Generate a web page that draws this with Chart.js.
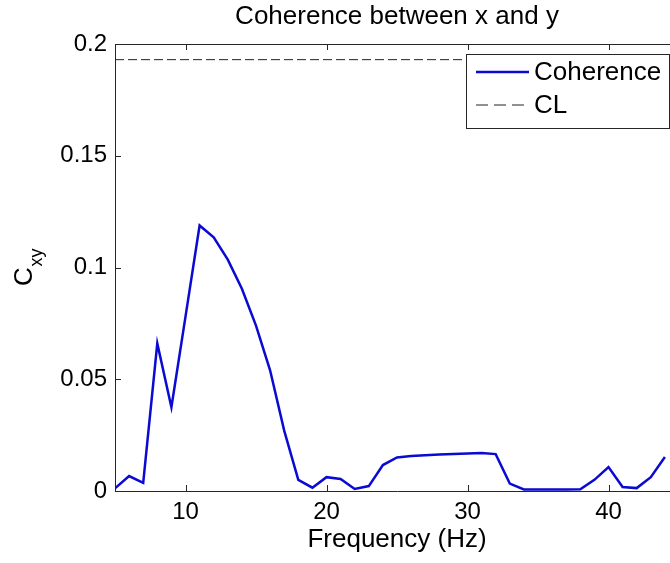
<!DOCTYPE html>
<html>
<head>
<meta charset="utf-8">
<script src="https://cdn.jsdelivr.net/npm/chart.js@4/dist/chart.umd.min.js"></script>
<style>
  html, body { margin: 0; padding: 0; background: #fff; overflow: hidden; width: 670px; height: 563px; }
  #wrap { position: relative; width: 680px; height: 563px; }
</style>
</head>
<body>
<div id="wrap"><canvas id="c" width="680" height="563"></canvas></div>
<script>
// ---- data ----
const frequencies = [5, 6, 7, 8, 9, 10, 11, 12, 13, 14, 15, 16, 17, 18, 19, 20, 21, 22, 23, 24,
                     25, 26, 27, 28, 29, 30, 31, 32, 33, 34, 35, 36, 37, 38, 39, 40, 41, 42, 43, 44];
const coherence = [0.0012, 0.0067, 0.0036, 0.066, 0.0375, 0.078, 0.1188, 0.1135, 0.1035, 0.0905,
                   0.074, 0.054, 0.027, 0.005, 0.0015, 0.0062, 0.0054, 0.0009, 0.0022, 0.0116,
                   0.0150, 0.0157, 0.0160, 0.0163, 0.0166, 0.0168, 0.0170, 0.0165, 0.0033, 0.0007,
                   0.0007, 0.0007, 0.0007, 0.0008, 0.005, 0.0107, 0.0018, 0.0013, 0.0062, 0.0152];
const confidenceLevel = 0.193;
const xRange = [5, 45];
const yRange = [0, 0.2];
const xTicks = [10, 20, 30, 40];
const xTickLabels = ['10', '20', '30', '40'];
const yTicks = [0, 0.05, 0.1, 0.15, 0.2];
const yTickLabels = ['0', '0.05', '0.1', '0.15', '0.2'];
const seriesNames = ['Coherence', 'CL'];
const chartTitle = 'Coherence between x and y';
const xTitle = 'Frequency (Hz)';
const yTitleMain = 'C';
const yTitleSub = 'xy';

const FONT = '"Liberation Sans", Arial, Helvetica, sans-serif';
const BLUE = '#0a0ad2';
const DASH = '#222222';

const coherencePoints = frequencies.map((f, i) => ({ x: f, y: coherence[i] }));
const clPoints = xRange.map(f => ({ x: f, y: confidenceLevel }));

const matlabAxes = {
  id: 'matlabAxes',
  afterDatasetsDraw(chart) {
    const { ctx, chartArea: a, scales: { x, y } } = chart;
    const tl = 6;
    ctx.save();
    ctx.strokeStyle = '#262626';
    ctx.lineWidth = 1;
    ctx.beginPath();
    // top and right border
    ctx.moveTo(a.left, Math.round(a.top) + 0.5);
    ctx.lineTo(a.right, Math.round(a.top) + 0.5);
    ctx.moveTo(Math.round(a.right) - 0.5, a.top);
    ctx.lineTo(Math.round(a.right) - 0.5, a.bottom);
    // inward ticks
    xTicks.forEach(v => {
      const px = Math.round(x.getPixelForValue(v)) + 0.5;
      ctx.moveTo(px, a.bottom); ctx.lineTo(px, a.bottom - tl);
      ctx.moveTo(px, a.top); ctx.lineTo(px, a.top + tl);
    });
    yTicks.forEach(v => {
      const py = Math.round(y.getPixelForValue(v)) + 0.5;
      ctx.moveTo(a.left, py); ctx.lineTo(a.left + tl, py);
      ctx.moveTo(a.right, py); ctx.lineTo(a.right - tl, py);
    });
    ctx.stroke();
    ctx.restore();
  },
  afterDraw(chart) {
    const { ctx, chartArea: a } = chart;
    ctx.save();
    // y-axis label C_xy, rotated
    ctx.fillStyle = '#000';
    ctx.font = '26px ' + FONT;
    const wC = ctx.measureText(yTitleMain).width;
    ctx.font = '18px ' + FONT;
    const wS = ctx.measureText(yTitleSub).width;
    const cy = (a.top + a.bottom) / 2;
    ctx.translate(32, cy + (wC + wS) / 2);
    ctx.rotate(-Math.PI / 2);
    ctx.textAlign = 'left';
    ctx.textBaseline = 'alphabetic';
    ctx.font = '26px ' + FONT;
    ctx.fillText(yTitleMain, 0, 0);
    ctx.font = '18px ' + FONT;
    ctx.fillText(yTitleSub, wC + 0.5, 10);
    ctx.restore();

    // legend box (NorthEast, inside axes)
    ctx.save();
    const lw = 203, lh = 74;
    const lx = a.right - 10 - lw, ly = a.top + 10;
    ctx.fillStyle = '#fff';
    ctx.fillRect(lx, ly, lw, lh);
    ctx.strokeStyle = '#262626';
    ctx.lineWidth = 1;
    ctx.strokeRect(Math.round(lx) + 0.5, Math.round(ly) + 0.5, lw, lh);
    const ds = chart.data.datasets;
    const rows = [ly + 18, ly + 51];
    ds.forEach((d, i) => {
      ctx.beginPath();
      ctx.strokeStyle = d.borderColor;
      ctx.lineWidth = d.borderWidth;
      ctx.setLineDash(d.borderDash ? [12, 6] : []);
      ctx.moveTo(lx + 10, rows[i]);
      ctx.lineTo(lx + 63, rows[i]);
      ctx.stroke();
      ctx.setLineDash([]);
      ctx.fillStyle = '#000';
      ctx.font = '26px ' + FONT;
      ctx.textAlign = 'left';
      ctx.textBaseline = 'middle';
      ctx.fillText(d.label, lx + 68, rows[i] + 1);
    });
    ctx.restore();
  }
};

new Chart(document.getElementById('c'), {
  type: 'line',
  data: {
    datasets: [
      { label: seriesNames[0], data: coherencePoints, borderColor: BLUE, borderWidth: 2.5,
        pointRadius: 0, tension: 0, fill: false },
      { label: seriesNames[1], data: clPoints, borderColor: DASH, borderWidth: 1,
        borderDash: [9, 4], pointRadius: 0, tension: 0, fill: false }
    ]
  },
  options: {
    responsive: false,
    animation: false,
    devicePixelRatio: 1,
    layout: { padding: { left: 0, right: 1, top: 0, bottom: 0 } },
    plugins: {
      legend: { display: false },
      tooltip: { enabled: false },
      title: {
        display: true, text: chartTitle, fullSize: false, color: '#000',
        font: { family: FONT, size: 26, weight: 'normal', lineHeight: '30px' },
        padding: { top: 2, bottom: 12 }
      }
    },
    scales: {
      x: {
        type: 'linear', min: xRange[0], max: xRange[1],
        afterBuildTicks: s => { s.ticks = xTicks.map(v => ({ value: v })); },
        afterFit: s => { s.height = 72; },
        ticks: {
          color: '#000', padding: 7, maxRotation: 0, autoSkip: false,
          font: { family: FONT, size: 24 },
          callback: (v) => xTickLabels[xTicks.indexOf(v)] ?? String(v)
        },
        grid: { display: false, drawTicks: false },
        border: { display: true, color: '#262626', width: 1 },
        title: {
          display: true, text: xTitle, color: '#000',
          font: { family: FONT, size: 26 },
          padding: { top: 0, bottom: 8 }
        }
      },
      y: {
        type: 'linear', min: yRange[0], max: yRange[1],
        afterBuildTicks: s => { s.ticks = yTicks.map(v => ({ value: v })); },
        afterFit: s => { s.width = 115; },
        ticks: {
          color: '#000', padding: 8, autoSkip: false,
          font: { family: FONT, size: 24 },
          callback: (v) => { const i = yTicks.findIndex(t => Math.abs(t - v) < 1e-9); return i >= 0 ? yTickLabels[i] : String(v); }
        },
        grid: { display: false, drawTicks: false },
        border: { display: true, color: '#262626', width: 1 }
      }
    }
  },
  plugins: [matlabAxes]
});
</script>
</body>
</html>
